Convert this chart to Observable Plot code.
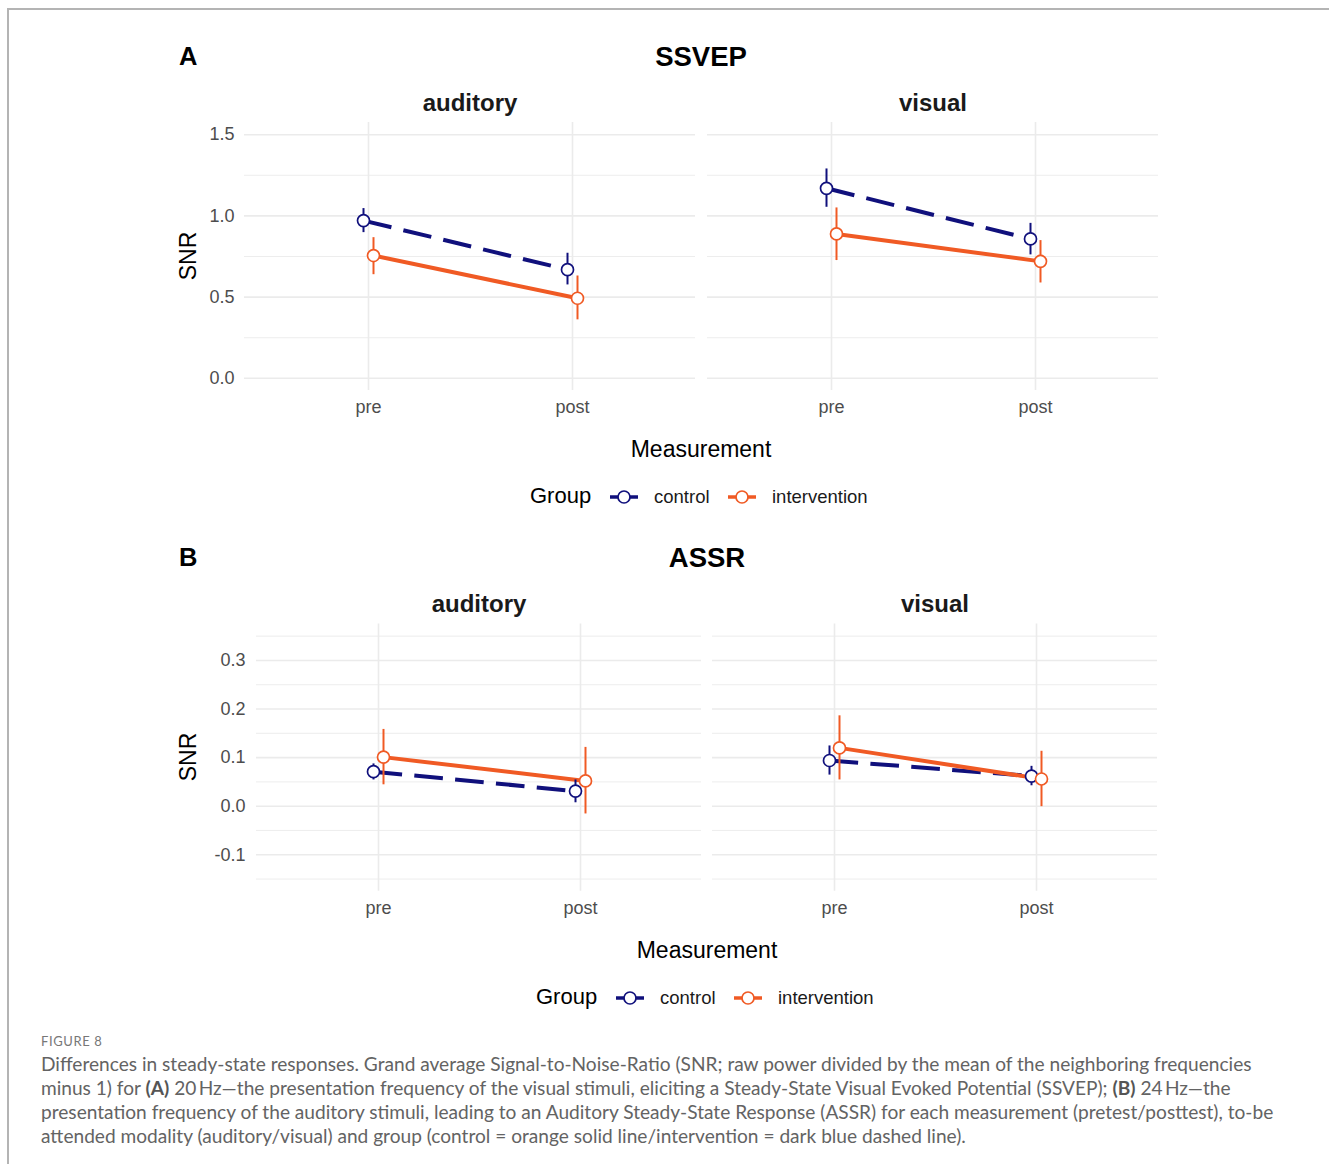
<!DOCTYPE html>
<html>
<head>
<meta charset="utf-8">
<script src="https://cdn.jsdelivr.net/npm/d3@7"></script>
<script src="https://cdn.jsdelivr.net/npm/@observablehq/plot@0.6"></script>
<style>
  html, body { margin: 0; padding: 0; background: #fff; }
  #page { position: relative; width: 1329px; height: 1164px; overflow: hidden; background: #fff; }
  #page > svg { position: absolute; left: 0; overflow: visible; max-width: none; }
  #frame { position: absolute; left: 7px; top: 8px; width: 1340px; height: 1170px;
           border-top: 2px solid #b4b4b4; border-left: 2px solid #b4b4b4; }
  #caption { position: absolute; left: 41px; top: 1030px; font-family: Lato, "Open Sans", sans-serif; color: #636363; }
  #caption .fig { font-size: 13px; letter-spacing: 0.6px; color: #777; height: 22px; line-height: 22px; }
  #caption .ln { white-space: nowrap; line-height: 24px; height: 24px; }
  #caption b { color: #555; }
</style>
</head>
<body>
<div id="page"><div id="frame"></div></div>
<script>
// ---------- data ----------
const modalities = ["auditory", "visual"];
const measurements = ["pre", "post"];
const groups = ["control", "intervention"];
// cell order: auditory-pre, auditory-post, visual-pre, visual-post
const cellModality = ["auditory", "auditory", "visual", "visual"];
const cellMeasurement = ["pre", "post", "pre", "post"];

// Panel A: SSVEP
const ssvepControlMean = [0.971, 0.669, 1.170, 0.858];
const ssvepControlLow  = [0.897, 0.575, 1.053, 0.760];
const ssvepControlHigh = [1.045, 0.770, 1.289, 0.954];
const ssvepInterventionMean = [0.756, 0.493, 0.889, 0.720];
const ssvepInterventionLow  = [0.638, 0.360, 0.725, 0.587];
const ssvepInterventionHigh = [0.866, 0.630, 1.049, 0.848];

// Panel B: ASSR
const assrControlMean = [0.071, 0.031, 0.094, 0.062];
const assrControlLow  = [0.054, 0.007, 0.064, 0.042];
const assrControlHigh = [0.087, 0.054, 0.124, 0.082];
const assrInterventionMean = [0.101, 0.052, 0.120, 0.056];
const assrInterventionLow  = [0.044, -0.016, 0.054, -0.001];
const assrInterventionHigh = [0.158, 0.121, 0.186, 0.113];

const ssvepTicks = [0, 0.5, 1.0, 1.5];
const ssvepMinor = [0.25, 0.75, 1.25];
const ssvepDomain = [-0.075, 1.575];
const assrTicks = [-0.1, 0, 0.1, 0.2, 0.3];
const assrMinor = [-0.15, -0.05, 0.05, 0.15, 0.25, 0.35];
const assrDomain = [-0.175, 0.375];

// ---------- styles ----------
const colors = {control: "#10107c", intervention: "#f05a24"};
const dodge = {control: -5, intervention: 5};
const dash = {control: "28.7,12.3", intervention: null};
const grid = "#ebebeb";
const FONT = "'Liberation Sans', Arial, Helvetica, sans-serif";

function rows(mean, low, high, group) {
  return mean.map((m, i) => ({
    modality: cellModality[i], measurement: cellMeasurement[i], group,
    mean: m, low: low[i], high: high[i]
  }));
}

function panel(o) {
  const sets = [o.control, o.intervention];
  const marks = [
    Plot.ruleY(o.minor, {stroke: grid, strokeWidth: 0.9}),
    Plot.ruleY(o.ticks, {stroke: grid, strokeWidth: 1.6}),
    Plot.ruleX(measurements, {stroke: grid, strokeWidth: 1.6}),
    Plot.axisY(o.ticks, {tickSize: 0, tickPadding: o.yPad, fontSize: 18, fill: "#4d4d4d",
      tickFormat: d => d.toFixed(1), label: null}),
    Plot.axisX({tickSize: 0, tickPadding: 10, fontSize: 18, fill: "#4d4d4d", label: null}),
    Plot.text(modalities, {fx: d => d, text: d => d, frameAnchor: "top", lineAnchor: "bottom",
      dy: -12, fontSize: 24, fontWeight: "bold", fill: "#1a1a1a"})
  ];
  for (const d of sets) {
    const g = d[0].group;
    marks.push(Plot.line(d, {fx: "modality", x: "measurement", y: "mean", stroke: colors[g],
      strokeWidth: 4, strokeDasharray: dash[g], strokeLinecap: "butt", dx: dodge[g]}));
  }
  for (const d of sets) {
    const g = d[0].group;
    marks.push(Plot.ruleX(d, {fx: "modality", x: "measurement", y1: "low", y2: "high",
      stroke: colors[g], strokeWidth: 2, dx: dodge[g]}));
  }
  for (const d of sets) {
    const g = d[0].group;
    marks.push(Plot.dot(d, {fx: "modality", x: "measurement", y: "mean", r: 6, fill: "white",
      stroke: colors[g], strokeWidth: 1.7, dx: dodge[g]}));
  }
  return Plot.plot({
    width: 1329, height: o.height,
    marginTop: o.marginTop, marginBottom: o.marginBottom,
    marginLeft: o.marginLeft, marginRight: o.marginRight,
    style: {fontFamily: FONT, background: "transparent", overflow: "visible"},
    fx: {domain: modalities, paddingInner: o.fxPad, paddingOuter: 0, axis: null, label: null},
    x: {type: "point", domain: measurements, padding: 0.6, axis: null},
    y: {domain: o.domain, axis: null},
    marks
  });
}

const page = document.getElementById("page");

const plotA = panel({
  control: rows(ssvepControlMean, ssvepControlLow, ssvepControlHigh, "control"),
  intervention: rows(ssvepInterventionMean, ssvepInterventionLow, ssvepInterventionHigh, "intervention"),
  ticks: ssvepTicks, minor: ssvepMinor, domain: ssvepDomain,
  height: 470, marginTop: 122, marginBottom: 80, marginLeft: 244, marginRight: 171, fxPad: 0.026, yPad: 10
});
plotA.style.top = "0px";
page.appendChild(plotA);

const plotB = panel({
  control: rows(assrControlMean, assrControlLow, assrControlHigh, "control"),
  intervention: rows(assrInterventionMean, assrInterventionLow, assrInterventionHigh, "intervention"),
  ticks: assrTicks, minor: assrMinor, domain: assrDomain,
  height: 420, marginTop: 103.5, marginBottom: 49.3, marginLeft: 256, marginRight: 171, fxPad: 0.024, yPad: 11
});
plotB.style.top = "520px";
page.appendChild(plotB);

// ---------- titles, axis titles, legends ----------
const ov = d3.select(page).append("svg")
  .attr("width", 1329).attr("height", 1164)
  .style("top", "0px").style("font-family", FONT);

function txt(x, y, s, size, opts = {}) {
  const t = ov.append("text").attr("x", x).attr("y", y).text(s)
    .attr("font-size", size).attr("fill", opts.fill || "#000")
    .attr("text-anchor", opts.anchor || "start")
    .attr("font-weight", opts.bold ? "bold" : "normal");
  if (opts.rotate) t.attr("transform", `rotate(-90 ${x} ${y})`);
  return t;
}

const panelTitles = [
  {letter: "A", title: "SSVEP", dx: 0, dy: 0, center: 701},
  {letter: "B", title: "ASSR", dx: 6, dy: 501, center: 707}
];
for (const p of panelTitles) {
  txt(179, 65 + p.dy, p.letter, 25.5, {bold: true});
  txt(p.center, 66 + p.dy, p.title, 27.5, {bold: true, anchor: "middle"});
  txt(196, 256 + p.dy, "SNR", 23, {anchor: "middle", rotate: true});
  txt(p.center, 457 + p.dy, "Measurement", 23, {anchor: "middle"});
  // legend
  const ly = 503 + p.dy, ky = 497 + p.dy;
  txt(530 + p.dx, ly, "Group", 22);
  const keys = [
    {g: "control", x0: 610, label: "control", lx: 654},
    {g: "intervention", x0: 728, label: "intervention", lx: 772}
  ];
  for (const k of keys) {
    ov.append("line").attr("x1", k.x0 + p.dx).attr("x2", k.x0 + 28 + p.dx)
      .attr("y1", ky).attr("y2", ky).attr("stroke", colors[k.g]).attr("stroke-width", 3.5);
    ov.append("circle").attr("cx", k.x0 + 14 + p.dx).attr("cy", ky).attr("r", 6)
      .attr("fill", "white").attr("stroke", colors[k.g]).attr("stroke-width", 1.7);
    txt(k.lx + p.dx, ly, k.label, 18.5, {fill: "#1a1a1a"});
  }
}

// ---------- caption ----------
const cap = document.createElement("div");
cap.id = "caption";
cap.innerHTML = `
<div class="fig">FIGURE 8</div>
<div class="ln">Differences in steady-state responses. Grand average Signal-to-Noise-Ratio (SNR; raw power divided by the mean of the neighboring frequencies</div>
<div class="ln">minus 1) for <b>(A)</b> 20\u2009Hz—the presentation frequency of the visual stimuli, eliciting a Steady-State Visual Evoked Potential (SSVEP); <b>(B)</b> 24\u2009Hz—the</div>
<div class="ln">presentation frequency of the auditory stimuli, leading to an Auditory Steady-State Response (ASSR) for each measurement (pretest/posttest), to-be</div>
<div class="ln">attended modality (auditory/visual) and group (control = orange solid line/intervention = dark blue dashed line).</div>`;
page.appendChild(cap);
const lines = cap.querySelectorAll(".ln");
lines.forEach(l => { l.style.fontSize = "17px"; l.style.display = "inline-block"; });
const w0 = lines[0].getBoundingClientRect().width;
const fs = 17 * 1211 / w0;
lines.forEach(l => { l.style.fontSize = fs + "px"; l.style.display = "block"; });
</script>
</body>
</html>
